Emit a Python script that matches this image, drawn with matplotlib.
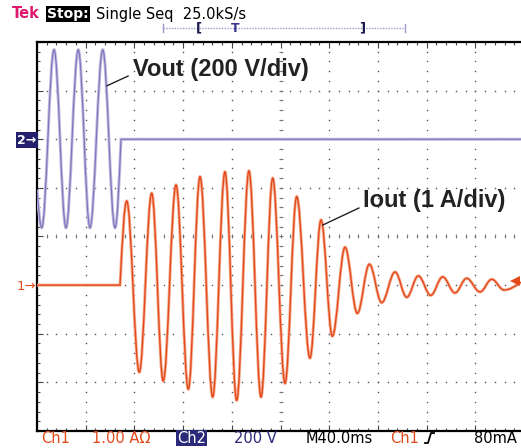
import numpy as np
import matplotlib
matplotlib.use("Agg")
import matplotlib.pyplot as plt
from matplotlib.path import Path
from matplotlib.patches import PathPatch
from matplotlib.lines import Line2D
from matplotlib.ticker import MultipleLocator

# ---------------- data ----------------
# Ch2: output voltage (200 V/div), time in ms (40 ms/div)
vout_t_ms = [0, 3.9, 14.0, 23.8, 33.9, 43.5, 54.0, 64.1, 69.0, 397.5]
vout_v = [-208, -364, 368, -364, 368, -364, 368, -364, 0, 0]

# Ch1: output current (1 A/div)
iout_t_ms = [0, 68.2, 73.7, 84.0, 94.2, 103.7, 114.2, 124.3, 133.9, 144.3,
             154.4, 164.0, 174.1, 184.0, 193.6, 203.7, 213.3, 224.2, 233.3,
             242.6, 253.0, 263.1, 273.0, 283.1, 294.1, 303.7, 313.2, 323.4,
             333.2, 343.3, 352.9, 363.9, 373.5, 383.6, 397.5]
iout_a = [0, 0, 1.73, -1.79, 1.89, -1.97, 2.06, -2.14, 2.23, -2.30,
          2.33, -2.37, 2.35, -2.30, 2.20, -2.02, 1.82, -1.50, 1.34,
          -1.05, 0.78, -0.58, 0.43, -0.36, 0.27, -0.25, 0.19, -0.21,
          0.17, -0.16, 0.14, -0.14, 0.12, -0.10, 0.06]

ms_per_div = 40.0
a_per_div = 1.0
v_per_div = 200.0
ch1_ground_div = -1.0
ch2_ground_div = 2.0
trigger_level_a = 0.08

# ---------------- figure ----------------
W, H = 521, 448
fig = plt.figure(figsize=(W / 100, H / 100), dpi=100)
fig.patch.set_facecolor("white")

def fx(px):
    return px / W

def fy(py):
    return 1 - py / H

ax_left, ax_right, ax_top, ax_bot = 37, 521, 42, 431
div_px = 48.7
ax = fig.add_axes([fx(ax_left), fy(ax_bot), (ax_right - ax_left) / W, (ax_bot - ax_top) / H])
xmax = (ax_right - ax_left) / div_px
ax.set_xlim(0, xmax)
ax.set_ylim(-4, 4)
ax.set_facecolor("white")
for s in ["top", "left", "bottom"]:
    ax.spines[s].set_color("black")
    ax.spines[s].set_linewidth(1.6)
ax.spines["right"].set_visible(False)

ax.xaxis.set_major_locator(MultipleLocator(1))
ax.xaxis.set_minor_locator(MultipleLocator(0.2))
ax.yaxis.set_major_locator(MultipleLocator(1))
ax.yaxis.set_minor_locator(MultipleLocator(0.2))
ax.tick_params(which="both", direction="in", top=True, bottom=True, left=True, right=False,
               labelbottom=False, labelleft=False, color="#444444", width=0.8)
ax.tick_params(which="major", length=4)
ax.tick_params(which="minor", length=2.5)

# graticule dots
gc = "#555555"
ys = np.arange(-4, 4.001, 0.2)
xs = np.arange(0, xmax, 0.2)
for k in range(1, 10):
    ax.plot(np.full_like(ys, k), ys, ls="none", marker="s", ms=1.0, mew=0, color=gc, zorder=1)
for j in range(-3, 4):
    ax.plot(xs, np.full_like(xs, j), ls="none", marker="s", ms=1.0, mew=0, color=gc, zorder=1)
# center cross minor ticks (small)
ax.plot(np.full_like(ys, 5), ys, ls="none", marker="_", ms=2.5, mew=0.7, color="#777777", zorder=1)
ax.plot(xs, np.zeros_like(xs), ls="none", marker="|", ms=2.5, mew=0.7, color="#777777", zorder=1)


def smooth_path(t, v):
    """Cubic Bezier trace through the read points (horizontal tangent at extrema)."""
    n = len(t)
    verts = [(t[0], v[0])]
    codes = [Path.MOVETO]
    def is_ext(i):
        if i == 0 or i == n - 1:
            return False
        return (v[i] - v[i - 1]) * (v[i + 1] - v[i]) < 0
    k = 0.36
    for i in range(n - 1):
        t0, v0, t1, v1 = t[i], v[i], t[i + 1], v[i + 1]
        dt = t1 - t0
        if v0 == v1:
            verts.append((t1, v1)); codes.append(Path.LINETO)
            continue
        sec = (v1 - v0) / dt
        s0 = 0.0 if is_ext(i) else sec * 1.5
        s1 = 0.0 if is_ext(i + 1) else sec * 1.5
        c1 = (t0 + k * dt, v0 + s0 * k * dt)
        c2 = (t1 - k * dt, v1 - s1 * k * dt)
        verts += [c1, c2, (t1, v1)]
        codes += [Path.CURVE4] * 3
    return Path(verts, codes)


# channel traces in division units
vx = [t / ms_per_div for t in vout_t_ms]
vy = [v / v_per_div + ch2_ground_div for v in vout_v]
ix = [t / ms_per_div for t in iout_t_ms]
iy = [a / a_per_div + ch1_ground_div for a in iout_a]

vpath = smooth_path(vx, vy)
ipath = smooth_path(ix, iy)
ax.add_patch(PathPatch(vpath, fill=False, ec="#c4bee3", lw=2.2, zorder=3))
ax.add_patch(PathPatch(vpath, fill=False, ec="#8078ba", lw=0.9, zorder=4))
ax.add_patch(PathPatch(ipath, fill=False, ec="#f6b095", lw=2.2, zorder=3))
ax.add_patch(PathPatch(ipath, fill=False, ec="#e24a1c", lw=1.0, zorder=4))

# trigger level marker (right)
ax.plot([9.82], [ch1_ground_div + trigger_level_a / a_per_div], marker="<", ms=7,
        color="#e24a1c", mew=0, clip_on=False, zorder=6)

# annotations
ax.text(1.97, 3.43, "Vout (200 V/div)", fontsize=17, fontweight="bold",
        family="Liberation Sans", color="#222222", va="center", ha="left", zorder=7)
ax.plot([1.87, 1.437], [3.30, 3.10], color="#222222", lw=1.0, zorder=7)
ax.text(6.70, 0.75, "Iout (1 A/div)", fontsize=17, fontweight="bold",
        family="Liberation Sans", color="#222222", va="center", ha="left", zorder=7)
ax.plot([6.61, 5.87], [0.586, 0.237], color="#222222", lw=1.0, zorder=7)

# left channel markers
fig.text(fx(17), fy(140), "2\u2192", color="white", fontsize=9, fontweight="bold",
         va="center", ha="left",
         bbox=dict(facecolor="#23206e", edgecolor="none", pad=1.0))
fig.text(fx(17), fy(286), "1\u2192", color="#e24a1c", fontsize=9.5,
         va="center", ha="left")

# header
hy = fy(14)
fig.text(fx(12), hy, "Tek", color="#e0166e", fontsize=10.5, fontweight="bold", va="center")
fig.text(fx(47), hy, "Stop:", color="white", fontsize=10, fontweight="bold", va="center",
         bbox=dict(facecolor="black", edgecolor="none", pad=0.8))
fig.text(fx(96), hy, "Single Seq  25.0kS/s", color="black", fontsize=10.5, va="center")

# record bar
by = fy(28)
fig.add_artist(Line2D([fx(163), fx(405)], [by, by], color="#9c98cc", lw=1.0,
                      ls=(0, (1, 1)), transform=fig.transFigure))
for px in (163, 405):
    fig.add_artist(Line2D([fx(px), fx(px)], [fy(24), fy(32)], color="#9c98cc", lw=1.0,
                          transform=fig.transFigure))
fig.text(fx(199), by, "[", color="#1c1a50", fontsize=9.5, fontweight="bold", va="center", ha="center")
fig.text(fx(362), by, "]", color="#1c1a50", fontsize=9.5, fontweight="bold", va="center", ha="center")
fig.text(fx(235), fy(29), "T", color="#3a3590", fontsize=9, fontweight="bold", va="center", ha="center")

# bottom status line
sy = fy(438)
orange = "#e24a1c"
navy = "#2b2a7a"
fs = 10.5
fig.text(fx(41), sy, "Ch1", color=orange, fontsize=fs, va="center")
fig.text(fx(92), sy, "1.00 A\u03a9", color=orange, fontsize=fs, va="center")
fig.text(fx(177), sy, "Ch2", color="white", fontsize=fs, va="center",
         bbox=dict(facecolor=navy, edgecolor="none", pad=0.6))
fig.text(fx(234), sy, "200 V", color=navy, fontsize=fs, va="center")
fig.text(fx(306), sy, "M40.0ms", color="black", fontsize=fs, va="center")
fig.text(fx(390), sy, "Ch1", color=orange, fontsize=fs, va="center")
fig.add_artist(Line2D([fx(425), fx(428), fx(431), fx(434)],
                      [fy(443), fy(443), fy(433), fy(433)], color="black", lw=1.3,
                      transform=fig.transFigure))
fig.text(fx(474), sy, "80mA", color="black", fontsize=fs, va="center")

fig.savefig("out.png", dpi=100, facecolor="white")
